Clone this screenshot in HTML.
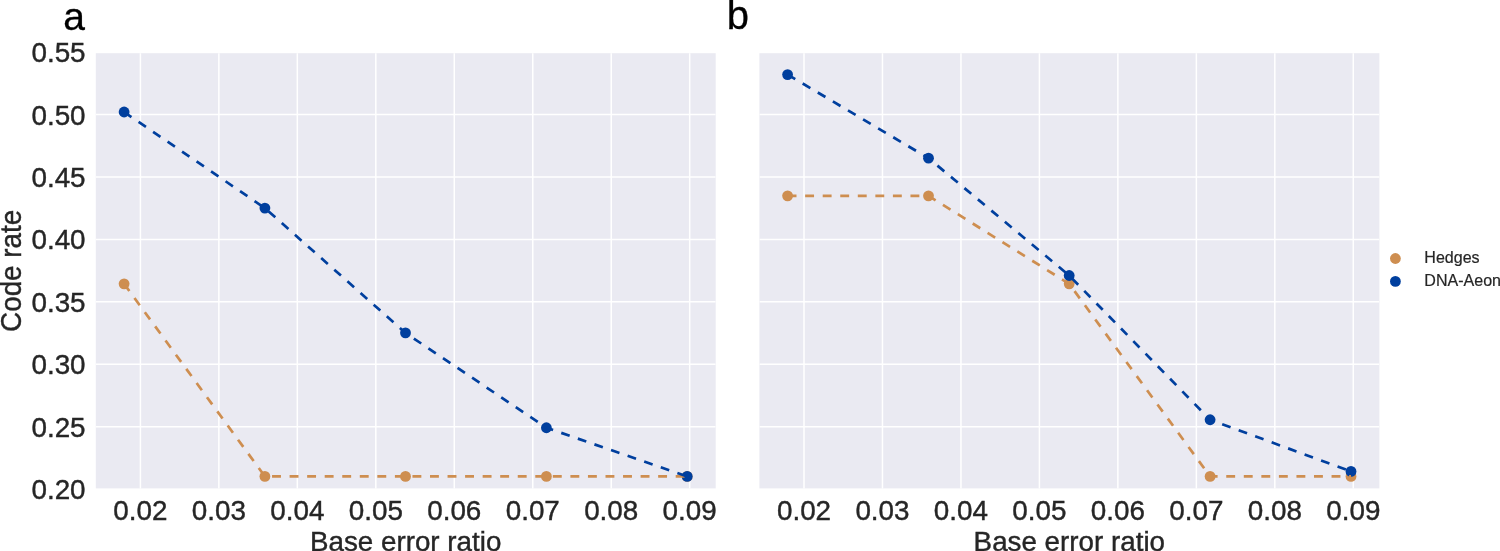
<!DOCTYPE html>
<html lang="en"><head><meta charset="utf-8"><title>Code rate vs base error ratio</title>
<style>html,body{margin:0;padding:0;background:#fff;overflow:hidden}svg{display:block}</style></head>
<body>
<svg width="1500" height="551" viewBox="0 0 1500 551" font-family="'Liberation Sans', Arial, sans-serif">
<rect width="1500" height="551" fill="#fff"/>
<defs><clipPath id="ca"><rect x="95.8" y="53.2" width="619.90" height="435.20"/></clipPath><clipPath id="cb"><rect x="759.4" y="53.2" width="620.00" height="435.20"/></clipPath></defs>
<rect x="95.8" y="53.2" width="619.90" height="435.20" fill="#EAEAF2"/>
<g clip-path="url(#ca)" stroke="#fff" stroke-width="1.5">
<line x1="140.40" y1="52.15" x2="140.40" y2="489.15"/>
<line x1="218.87" y1="52.15" x2="218.87" y2="489.15"/>
<line x1="297.34" y1="52.15" x2="297.34" y2="489.15"/>
<line x1="375.81" y1="52.15" x2="375.81" y2="489.15"/>
<line x1="454.28" y1="52.15" x2="454.28" y2="489.15"/>
<line x1="532.75" y1="52.15" x2="532.75" y2="489.15"/>
<line x1="611.22" y1="52.15" x2="611.22" y2="489.15"/>
<line x1="689.69" y1="52.15" x2="689.69" y2="489.15"/>
<line x1="95.8" y1="114.58" x2="715.7" y2="114.58"/>
<line x1="95.8" y1="177.01" x2="715.7" y2="177.01"/>
<line x1="95.8" y1="239.44" x2="715.7" y2="239.44"/>
<line x1="95.8" y1="301.86" x2="715.7" y2="301.86"/>
<line x1="95.8" y1="364.29" x2="715.7" y2="364.29"/>
<line x1="95.8" y1="426.72" x2="715.7" y2="426.72"/>
</g>
<circle cx="124.1" cy="283.85" r="5.4" fill="#CE8E50"/>
<circle cx="264.9" cy="476.42" r="5.4" fill="#CE8E50"/>
<circle cx="405.5" cy="476.42" r="5.4" fill="#CE8E50"/>
<circle cx="546.4" cy="476.42" r="5.4" fill="#CE8E50"/>
<circle cx="687.2" cy="476.42" r="5.4" fill="#CE8E50"/>
<circle cx="124.1" cy="112.00" r="5.4" fill="#003F9E"/>
<circle cx="264.9" cy="208.10" r="5.4" fill="#003F9E"/>
<circle cx="405.5" cy="332.90" r="5.4" fill="#003F9E"/>
<circle cx="546.4" cy="427.75" r="5.4" fill="#003F9E"/>
<circle cx="687.2" cy="476.42" r="5.4" fill="#003F9E"/>
<polyline points="124.1,283.85 264.9,476.42 405.5,476.42 546.4,476.42 687.2,476.42" fill="none" stroke="#CE8E50" stroke-width="2.7" stroke-dasharray="8.9 8.65" stroke-linejoin="round"/>
<polyline points="124.1,112.00 264.9,208.10 405.5,332.90 546.4,427.75 687.2,476.42" fill="none" stroke="#003F9E" stroke-width="2.7" stroke-dasharray="8.9 8.65" stroke-linejoin="round"/>
<g font-size="27.5" fill="#262626" stroke="#262626" stroke-width="0.4" text-anchor="middle">
<text transform="translate(140.40,519.6) scale(1.012,1.03)">0.02</text>
<text transform="translate(218.87,519.6) scale(1.012,1.03)">0.03</text>
<text transform="translate(297.34,519.6) scale(1.012,1.03)">0.04</text>
<text transform="translate(375.81,519.6) scale(1.012,1.03)">0.05</text>
<text transform="translate(454.28,519.6) scale(1.012,1.03)">0.06</text>
<text transform="translate(532.75,519.6) scale(1.012,1.03)">0.07</text>
<text transform="translate(611.22,519.6) scale(1.012,1.03)">0.08</text>
<text transform="translate(689.69,519.6) scale(1.012,1.03)">0.09</text>
<text transform="translate(405.65,551) scale(1.01,1.03)">Base error ratio</text>
</g>
<g font-size="27.5" fill="#262626" stroke="#262626" stroke-width="0.4" text-anchor="end">
<text transform="translate(85.6,62.10) scale(1.012,1.03)">0.55</text>
<text transform="translate(85.6,124.53) scale(1.012,1.03)">0.50</text>
<text transform="translate(85.6,186.96) scale(1.012,1.03)">0.45</text>
<text transform="translate(85.6,249.39) scale(1.012,1.03)">0.40</text>
<text transform="translate(85.6,311.81) scale(1.012,1.03)">0.35</text>
<text transform="translate(85.6,374.24) scale(1.012,1.03)">0.30</text>
<text transform="translate(85.6,436.67) scale(1.012,1.03)">0.25</text>
<text transform="translate(85.6,499.10) scale(1.012,1.03)">0.20</text>
</g>
<text transform="translate(21.0,270.85) rotate(-90) scale(1.012,1.075)" font-size="27.5" fill="#262626" stroke="#262626" stroke-width="0.4" text-anchor="middle">Code rate</text>
<rect x="759.4" y="53.2" width="620.00" height="435.20" fill="#EAEAF2"/>
<g clip-path="url(#cb)" stroke="#fff" stroke-width="1.5">
<line x1="804.00" y1="52.15" x2="804.00" y2="489.15"/>
<line x1="882.47" y1="52.15" x2="882.47" y2="489.15"/>
<line x1="960.94" y1="52.15" x2="960.94" y2="489.15"/>
<line x1="1039.41" y1="52.15" x2="1039.41" y2="489.15"/>
<line x1="1117.88" y1="52.15" x2="1117.88" y2="489.15"/>
<line x1="1196.35" y1="52.15" x2="1196.35" y2="489.15"/>
<line x1="1274.82" y1="52.15" x2="1274.82" y2="489.15"/>
<line x1="1353.29" y1="52.15" x2="1353.29" y2="489.15"/>
<line x1="759.4" y1="114.58" x2="1379.4" y2="114.58"/>
<line x1="759.4" y1="177.01" x2="1379.4" y2="177.01"/>
<line x1="759.4" y1="239.44" x2="1379.4" y2="239.44"/>
<line x1="759.4" y1="301.86" x2="1379.4" y2="301.86"/>
<line x1="759.4" y1="364.29" x2="1379.4" y2="364.29"/>
<line x1="759.4" y1="426.72" x2="1379.4" y2="426.72"/>
</g>
<circle cx="787.6" cy="195.87" r="5.4" fill="#CE8E50"/>
<circle cx="928.5" cy="195.87" r="5.4" fill="#CE8E50"/>
<circle cx="1069.2" cy="283.85" r="5.4" fill="#CE8E50"/>
<circle cx="1210.1" cy="476.42" r="5.4" fill="#CE8E50"/>
<circle cx="1351.0" cy="476.42" r="5.4" fill="#CE8E50"/>
<circle cx="787.6" cy="74.56" r="5.4" fill="#003F9E"/>
<circle cx="928.5" cy="158.18" r="5.4" fill="#003F9E"/>
<circle cx="1069.2" cy="275.49" r="5.4" fill="#003F9E"/>
<circle cx="1210.1" cy="419.76" r="5.4" fill="#003F9E"/>
<circle cx="1351.0" cy="471.43" r="5.4" fill="#003F9E"/>
<polyline points="787.6,195.87 928.5,195.87 1069.2,283.85 1210.1,476.42 1351.0,476.42" fill="none" stroke="#CE8E50" stroke-width="2.7" stroke-dasharray="8.9 8.65" stroke-linejoin="round"/>
<polyline points="787.6,74.56 928.5,158.18 1069.2,275.49 1210.1,419.76 1351.0,471.43" fill="none" stroke="#003F9E" stroke-width="2.7" stroke-dasharray="8.9 8.65" stroke-linejoin="round"/>
<g font-size="27.5" fill="#262626" stroke="#262626" stroke-width="0.4" text-anchor="middle">
<text transform="translate(804.00,519.6) scale(1.012,1.03)">0.02</text>
<text transform="translate(882.47,519.6) scale(1.012,1.03)">0.03</text>
<text transform="translate(960.94,519.6) scale(1.012,1.03)">0.04</text>
<text transform="translate(1039.41,519.6) scale(1.012,1.03)">0.05</text>
<text transform="translate(1117.88,519.6) scale(1.012,1.03)">0.06</text>
<text transform="translate(1196.35,519.6) scale(1.012,1.03)">0.07</text>
<text transform="translate(1274.82,519.6) scale(1.012,1.03)">0.08</text>
<text transform="translate(1353.29,519.6) scale(1.012,1.03)">0.09</text>
<text transform="translate(1069.30,551) scale(1.01,1.03)">Base error ratio</text>
</g>
<text x="63.3" y="30.2" font-size="39" fill="#000" stroke="#000" stroke-width="0.3">a</text>
<text x="726.7" y="29.0" font-size="40" fill="#000" stroke="#000" stroke-width="0.3">b</text>
<circle cx="1395.4" cy="258.5" r="5.4" fill="#CE8E50"/>
<circle cx="1395.4" cy="281.4" r="5.4" fill="#003F9E"/>
<g font-size="16.05" fill="#262626" stroke="#262626" stroke-width="0.2"><text transform="translate(1424.3,262.6) scale(1,1.035)">Hedges</text><text transform="translate(1424.3,285.5) scale(1,1.035)">DNA-Aeon</text></g>
</svg>
</body></html>
